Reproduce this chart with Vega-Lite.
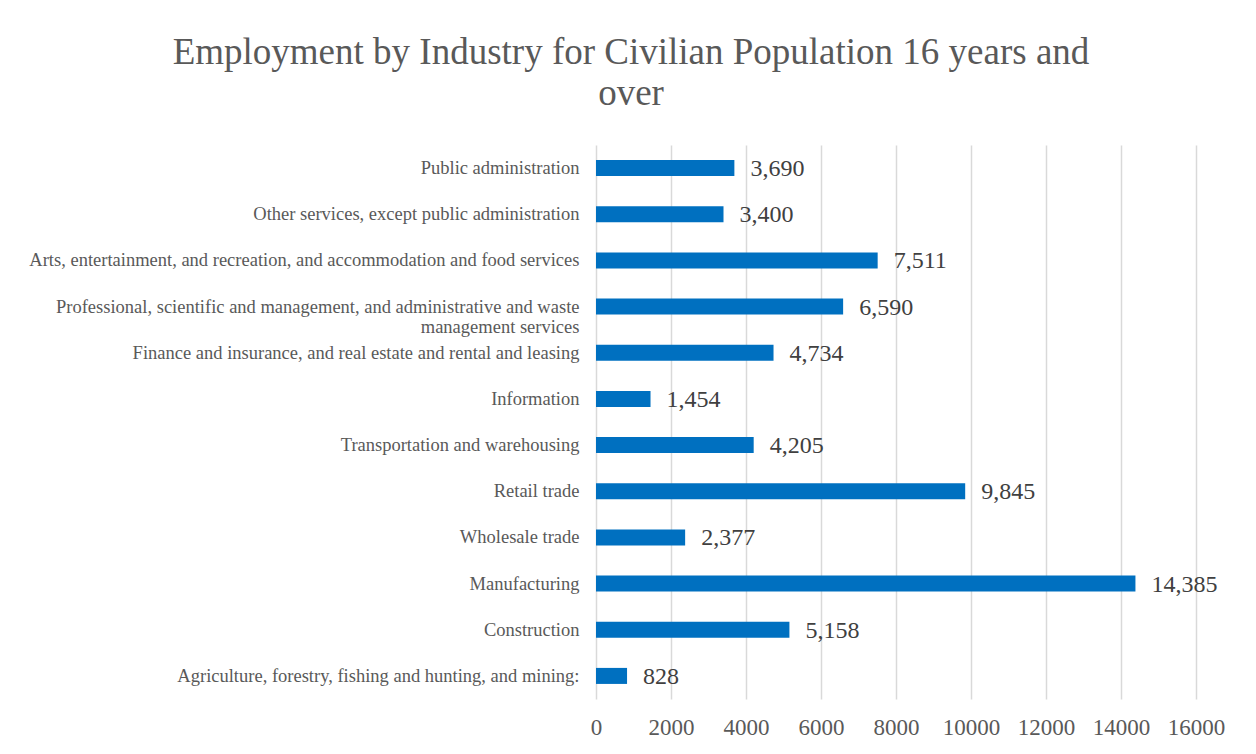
{
  "$schema": "https://vega.github.io/schema/vega-lite/v6.json",
  "autosize": {"type": "none"},
  "width": 600,
  "height": 554,
  "padding": {"left": 596, "top": 145, "right": 60, "bottom": 55},
  "background": "white",
  "title": {
    "text": ["Employment by Industry for Civilian Population 16 years and", "over"],
    "font": "Liberation Serif",
    "fontSize": 37,
    "fontWeight": "normal",
    "color": "#595959",
    "anchor": "middle",
    "frame": "group",
    "dx": -265,
    "baseline": "alphabetic",
    "lineHeight": 41,
    "offset": 3
  },
  "data": {
    "values": [
      {"industry": "Public administration", "value": 3690},
      {"industry": "Other services, except public administration", "value": 3400},
      {"industry": "Arts, entertainment, and recreation, and accommodation and food services", "value": 7511},
      {"industry": "Professional, scientific and management, and administrative and waste management services", "value": 6590},
      {"industry": "Finance and insurance, and real estate and rental and leasing", "value": 4734},
      {"industry": "Information", "value": 1454},
      {"industry": "Transportation and warehousing", "value": 4205},
      {"industry": "Retail trade", "value": 9845},
      {"industry": "Wholesale trade", "value": 2377},
      {"industry": "Manufacturing", "value": 14385},
      {"industry": "Construction", "value": 5158},
      {"industry": "Agriculture, forestry, fishing and hunting, and mining:", "value": 828}
    ]
  },
  "encoding": {
    "y": {
      "field": "industry",
      "type": "nominal",
      "sort": null,
      "scale": {"paddingInner": 0.653, "paddingOuter": 0.3265},
      "axis": {
        "title": null,
        "domain": false,
        "ticks": false,
        "grid": false,
        "labelFont": "Liberation Serif",
        "labelFontSize": 18.5,
        "labelColor": "#595959",
        "labelPadding": 17,
        "labelLimit": 800,
        "labelLineHeight": 20,
        "labelExpr": "datum.value == 'Professional, scientific and management, and administrative and waste management services' ? ['Professional, scientific and management, and administrative and waste', 'management services'] : datum.value"
      }
    },
    "x": {
      "field": "value",
      "type": "quantitative",
      "scale": {"domain": [0, 16000], "nice": false},
      "axis": {
        "title": null,
        "domain": false,
        "ticks": false,
        "grid": true,
        "gridColor": "#d9d9d9",
        "gridWidth": 1.5,
        "values": [0, 2000, 4000, 6000, 8000, 10000, 12000, 14000, 16000],
        "format": "d",
        "labelFont": "Liberation Serif",
        "labelFontSize": 23,
        "labelColor": "#595959",
        "labelPadding": 17,
        "labelFlush": false
      }
    }
  },
  "layer": [
    {"mark": {"type": "bar", "color": "#0070C0"}},
    {
      "mark": {
        "type": "text",
        "align": "left",
        "baseline": "middle",
        "dx": 16,
        "dy": 1,
        "font": "Liberation Serif",
        "fontSize": 24,
        "color": "#404040"
      },
      "encoding": {"text": {"field": "value", "type": "quantitative", "format": ","}}
    }
  ],
  "config": {"view": {"stroke": null}}
}
